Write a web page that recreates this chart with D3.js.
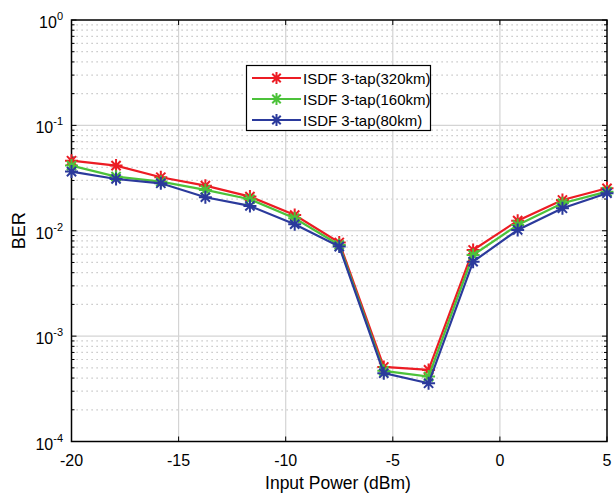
<!DOCTYPE html>
<html><head><meta charset="utf-8">
<script src="https://cdn.jsdelivr.net/npm/d3@7"></script>
<style>body{margin:0;background:#fff}svg{display:block}text{font-family:"Liberation Sans",Arial,sans-serif}</style>
</head><body><svg id="c" width="614" height="494"></svg>
<script>
const xValues = [-20, -17.92, -15.83, -13.75, -11.67, -9.58, -7.5, -5.42, -3.33, -1.25, 0.83, 2.92, 5];
const ber320 = [0.0462, 0.0415, 0.0322, 0.0268, 0.0211, 0.0141, 0.00774, 0.00051, 0.000478, 0.00657, 0.01247, 0.0196, 0.0253];
const ber160 = [0.0415, 0.0326, 0.0292, 0.0244, 0.0199, 0.01314, 0.00733, 0.000468, 0.000413, 0.00589, 0.01135, 0.01823, 0.0235];
const ber80  = [0.0364, 0.0310, 0.0282, 0.0208, 0.0172, 0.01153, 0.00707, 0.000445, 0.000357, 0.00509, 0.01018, 0.01634, 0.0227];
const seriesNames = ["ISDF 3-tap(320km)", "ISDF 3-tap(160km)", "ISDF 3-tap(80km)"];
const seriesColors = ["#ec1c24", "#4cc23a", "#2b3a9c"];
const xTicks = [-20, -15, -10, -5, 0, 5];
const yExponents = [0, -1, -2, -3, -4];

const svg = d3.select("#c");
const L = 71.5, R = 607, T = 20, B = 441.5;
const x = d3.scaleLinear().domain([-20, 5]).range([L, R]);
const y = d3.scaleLog().domain([1e-4, 1]).range([B, T]);

// minor grid
const minors = [];
for (let e = -4; e < 0; e++) for (let m = 2; m <= 9; m++) minors.push(m * Math.pow(10, e));
const g = svg.append("g");
g.selectAll(".mg").data(minors).enter().append("line")
  .attr("x1", L).attr("x2", R).attr("y1", d => y(d)).attr("y2", d => y(d))
  .attr("stroke", "#b8b8b8").attr("stroke-width", 1.2).attr("stroke-dasharray", "1.2,3.8");
g.selectAll(".Mg").data(yExponents.slice(1, 4)).enter().append("line")
  .attr("x1", L).attr("x2", R).attr("y1", d => y(Math.pow(10, d))).attr("y2", d => y(Math.pow(10, d)))
  .attr("stroke", "#d4d4d4").attr("stroke-width", 1.2);
g.selectAll(".xg").data(xTicks.slice(1, 5)).enter().append("line")
  .attr("y1", T).attr("y2", B).attr("x1", d => x(d)).attr("x2", d => x(d))
  .attr("stroke", "#d4d4d4").attr("stroke-width", 1.2);

// ticks (inside)
const tk = svg.append("g").attr("stroke", "#000").attr("stroke-width", 1);
xTicks.forEach(v => {
  tk.append("line").attr("x1", x(v)).attr("x2", x(v)).attr("y1", B).attr("y2", B - 5);
  tk.append("line").attr("x1", x(v)).attr("x2", x(v)).attr("y1", T).attr("y2", T + 5);
});
yExponents.forEach(e => {
  const yy = y(Math.pow(10, e));
  tk.append("line").attr("x1", L).attr("x2", L + 5).attr("y1", yy).attr("y2", yy);
  tk.append("line").attr("x1", R).attr("x2", R - 5).attr("y1", yy).attr("y2", yy);
});
minors.forEach(v => {
  const yy = y(v);
  tk.append("line").attr("x1", L).attr("x2", L + 3).attr("y1", yy).attr("y2", yy);
  tk.append("line").attr("x1", R).attr("x2", R - 3).attr("y1", yy).attr("y2", yy);
});

// frame
svg.append("rect").attr("x", L).attr("y", T).attr("width", R - L).attr("height", B - T)
  .attr("fill", "none").attr("stroke", "#000").attr("stroke-width", 1.5);

// tick labels
svg.selectAll(".xl").data(xTicks).enter().append("text")
  .attr("x", d => x(d)).attr("y", 466).attr("text-anchor", "middle")
  .attr("font-size", 16).attr("fill", "#000").text(d => d);
yExponents.forEach(e => {
  const yy = y(Math.pow(10, e));
  const t = svg.append("text").attr("x", 63).attr("y", yy + 8)
    .attr("text-anchor", "end").attr("font-size", 16).attr("fill", "#000");
  t.append("tspan").text("10");
  t.append("tspan").attr("font-size", 11).attr("dy", -8).text(e);
});

// axis titles
svg.append("text").attr("x", 338).attr("y", 489).attr("text-anchor", "middle")
  .attr("font-size", 17.5).attr("fill", "#000").text("Input Power (dBm)");
svg.append("text").attr("transform", "translate(25," + ((T + B) / 2) + ") rotate(-90)")
  .attr("text-anchor", "middle").attr("font-size", 18).attr("fill", "#000").text("BER");

// series
function star(sel, cx, cy, r, color) {
  const a = r * 0.7071;
  const p = `M${cx - r},${cy}L${cx + r},${cy}M${cx},${cy - r}L${cx},${cy + r}M${cx - a},${cy - a}L${cx + a},${cy + a}M${cx - a},${cy + a}L${cx + a},${cy - a}`;
  sel.append("path").attr("d", p).attr("stroke", color).attr("stroke-width", 2).attr("fill", "none");
}
const allSeries = [ber320, ber160, ber80];
const line = d3.line().x(d => x(d[0])).y(d => y(d[1]));
allSeries.forEach((s, i) => {
  const pts = xValues.map((xv, j) => [xv, s[j]]);
  svg.append("path").datum(pts).attr("d", line).attr("fill", "none")
    .attr("stroke", seriesColors[i]).attr("stroke-width", 2.2);
  const mg = svg.append("g");
  pts.forEach(p => star(mg, x(p[0]), y(p[1]), 6.5, seriesColors[i]));
});

// legend
const lg = svg.append("g");
lg.append("rect").attr("x", 246.5).attr("y", 65.5).attr("width", 184).attr("height", 65)
  .attr("fill", "#fff").attr("stroke", "#000").attr("stroke-width", 1.2);
seriesNames.forEach((n, i) => {
  const yy = 78 + i * 21;
  lg.append("line").attr("x1", 252).attr("x2", 301).attr("y1", yy).attr("y2", yy)
    .attr("stroke", seriesColors[i]).attr("stroke-width", 2.2);
  star(lg, 276.5, yy, 6, seriesColors[i]);
  lg.append("text").attr("x", 303).attr("y", yy + 5.5).attr("font-size", 15).attr("fill", "#000").text(n);
});
</script></body></html>
